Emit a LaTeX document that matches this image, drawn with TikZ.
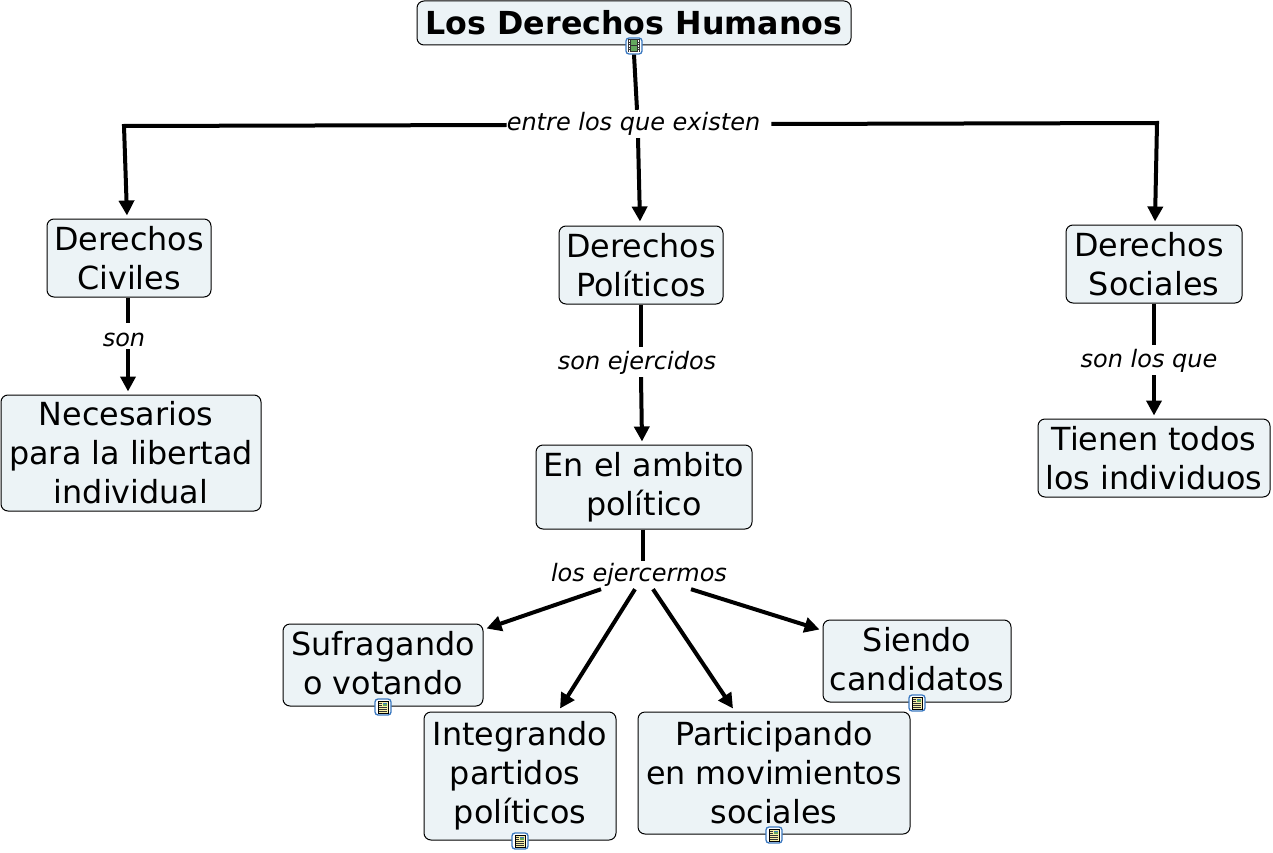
\documentclass[tikz,border=0pt]{standalone}
\usepackage{fontspec}
\setmainfont{DejaVu Sans}
\usetikzlibrary{arrows.meta,calc}
\definecolor{boxfill}{HTML}{ECF3F6}
\definecolor{iconblue}{HTML}{3A78C0}
\definecolor{iconpage}{HTML}{F7EFA8}
\definecolor{iconfilm}{HTML}{63A85E}
\tikzset{
  x=1pt,y=-1pt,
  concept/.style={draw=black,line width=1pt,fill=boxfill,rounded corners=7pt,inner sep=0pt,align=center,
    font=\fontsize{31.8}{39}\selectfont},
  linkphrase/.style={inner sep=0pt,text height=18pt,text depth=5pt,minimum height=28pt,font=\fontsize{24}{28}\selectfont\itshape},
  conn/.style={line width=4pt,draw=black},
  arr/.style={conn,-{Triangle[length=15pt,width=15pt]}},
  iconbox/.style={draw=iconblue,line width=1.3pt,fill=white,rounded corners=3pt,minimum size=16pt,inner sep=0pt},
  pics/page/.style={code={
    \fill[iconpage] (-5,-6) rectangle (5,6);
    \draw[black,line width=.8pt] (-5,-6) rectangle (5,6);
    \fill[iconfilm] (0,-4.5) rectangle (3.5,-1);
    \fill[iconblue] (0,-4.5) rectangle (3.5,-2.8);
    \foreach \yy in {-4,-2,0,2,4}{\draw[black!80,line width=.6pt] (-3.8,\yy) -- (\ifnum\yy<0 -1\else 3.8\fi,\yy);}
  }},
  pics/film/.style={code={
    \fill[black!80] (-6,-6.5) rectangle (6,6.5);
    \foreach \yy in {-5,-2.5,0,2.5,5}{
      \fill[white] (-5.2,\yy-.6) rectangle (-3.8,\yy+.6);
      \fill[white] (3.8,\yy-.6) rectangle (5.2,\yy+.6);}
    \fill[iconfilm] (-3,-5.5) rectangle (3,-.5);
    \fill[iconfilm] (-3,.5) rectangle (3,5.5);
  }},
}
\newcommand{\boxat}[6]{\node[concept,minimum width=#3-#2,minimum height=#5-#4] (#1) at ({(#2+#3)/2},{(#4+#5)/2}) {#6};}
\newcommand{\up}[1]{\rule[-#1pt]{0pt}{0pt}}
\newcommand{\tsp}{\rule{10pt}{0pt}}
\begin{document}
\begin{tikzpicture}
\useasboundingbox (0,0) rectangle (1273,853);

% bends of the two side connectors
\coordinate (lb) at (124,126);
\coordinate (rb) at (1157,123);

% concepts
\node[concept,minimum width=434,minimum height=44,font=\fontsize{31.7}{36}\selectfont\bfseries] (title) at (634,23) {Los Derechos Humanos\up{2}};
\boxat{civ}{47}{211}{219}{297}{Derechos\\Civiles}
\boxat{pol}{559}{723}{226}{304}{Derechos\\Políticos}
\boxat{soc}{1066}{1242}{225}{303}{Derechos\tsp\\Sociales}
\boxat{nec}{1}{261}{395}{511}{Necesarios\tsp\\para la libertad\\individual}
\boxat{amb}{536}{752}{445}{529}{En el ambito\\político}
\boxat{ten}{1038}{1270}{419}{497}{Tienen todos\\los individuos}
\boxat{suf}{283}{483}{624}{706}{Sufragando\\o votando\up{4}}
\boxat{sie}{823}{1011}{620}{702}{Siendo\\candidatos\up{4}}
\boxat{int}{424}{616}{712}{840}{Integrando\\partidos\tsp\\políticos\up{2}}
\boxat{par}{638}{910}{712}{834}{Participando\\en movimientos\\sociales\up{2}}

% linking phrases
\node[linkphrase] (l0) at (633.5,124) {entre los que existen};
\node[linkphrase] (l1) at (124,340) {son};
\node[linkphrase] (l2) at (637,363) {son ejercidos};
\node[linkphrase] (l3) at (1149,361) {son los que};
\node[linkphrase] (l4) at (639,575) {los ejercermos};

% icons
\node[iconbox] (i0) at (634,46) {}; \pic at (i0.center) {film};
\node[iconbox] (i1) at (383,707) {}; \pic at (i1.center) {page};
\node[iconbox] (i2) at (917,703) {}; \pic at (i2.center) {page};
\node[iconbox] (i3) at (520,841) {}; \pic at (i3.center) {page};
\node[iconbox] (i4) at (774,835) {}; \pic at (i4.center) {page};

% connectors
\draw[conn] (i0.south) -- ([xshift=3.5]l0.north);
\draw[arr] ([xshift=4.5]l0.south) -- ([xshift=-1,yshift=4]pol.north);
\draw[arr] ([yshift=-1]l0.west) -- (lb) -- ([xshift=-2,yshift=3]civ.north);
\draw[arr] ([xshift=11]l0.east) -- (rb) -- ([xshift=1,yshift=3]soc.north);
\draw[conn] ([xshift=-1]civ.south) -- ([xshift=4,yshift=3]l1.north);
\draw[arr] ([xshift=4,yshift=5]l1.south) -- ([xshift=-3,yshift=3]nec.north);
\draw[conn] (pol.south) -- ([xshift=4,yshift=2]l2.north);
\draw[arr] ([xshift=4]l2.south) -- ([xshift=-2,yshift=3]amb.north);
\draw[conn] (soc.south) -- ([xshift=5,yshift=2]l3.north);
\draw[arr] ([xshift=5]l3.south) -- ([yshift=3]ten.north);
\draw[conn] ([xshift=-1]amb.south) -- ([xshift=4]l4.north);
\draw[arr] ([xshift=-38]l4.south) -- ([xshift=3,yshift=-5]suf.north east);
\draw[arr] ([xshift=-4]l4.south) -- ([xshift=40,yshift=3]int.north);
\draw[arr] ([xshift=14]l4.south) -- ([xshift=-41,yshift=3]par.north);
\draw[arr] ([xshift=52]l4.south) -- ([xshift=-3,yshift=-10]sie.north west);
\end{tikzpicture}
\end{document}
